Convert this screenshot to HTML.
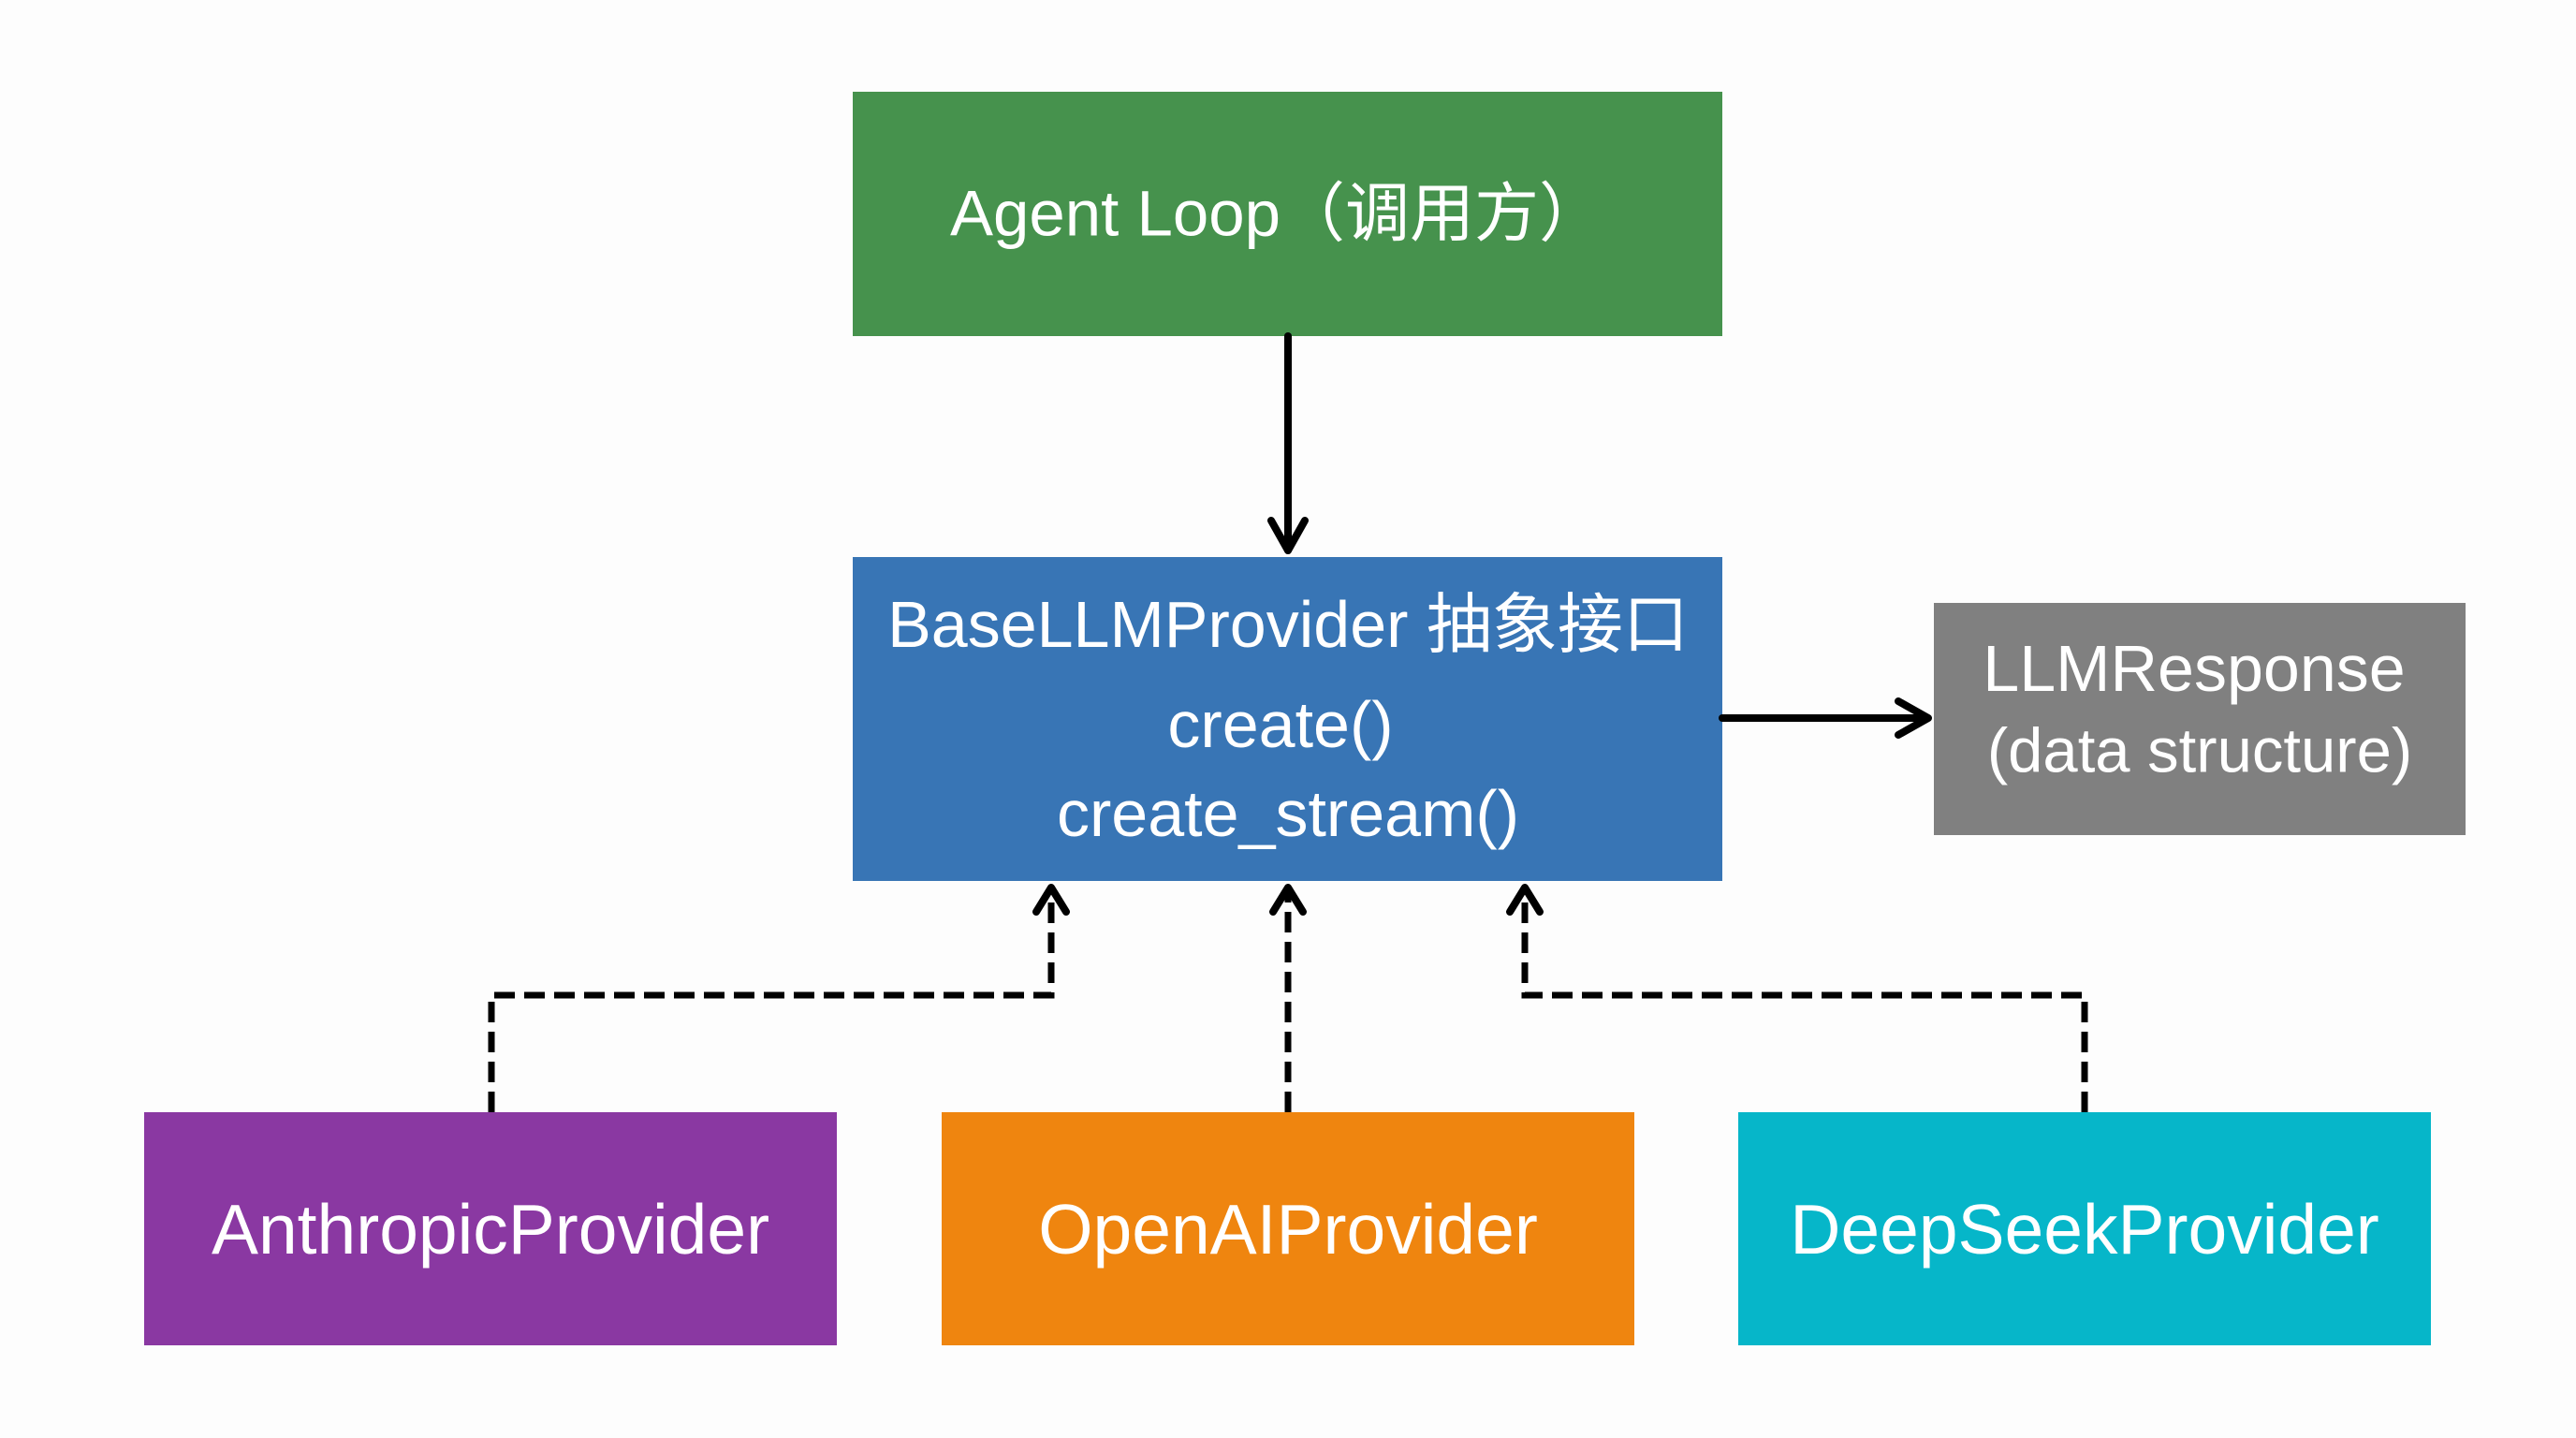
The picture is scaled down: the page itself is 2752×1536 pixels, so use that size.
<!DOCTYPE html>
<html><head><meta charset="utf-8"><style>
html,body{margin:0;padding:0;background:#fdfdfd;}
svg{display:block}
text{font-family:"Liberation Sans","Noto Sans CJK SC",sans-serif;fill:#fff;text-anchor:middle;dominant-baseline:central}
</style></head><body>
<svg width="2752" height="1536" viewBox="0 0 2752 1536" xmlns="http://www.w3.org/2000/svg">
<rect width="2752" height="1536" fill="#fdfdfd"/>
<rect x="911" y="98" width="929" height="261" fill="#46924d"/>
<text x="1364" y="228" font-size="69">Agent Loop（调用方）</text>
<rect x="911" y="595" width="929" height="346" fill="#3875b5"/>
<text x="1376" y="667" font-size="70">BaseLLMProvider 抽象接口</text>
<text x="1368" y="774" font-size="70">create()</text>
<text x="1376" y="869" font-size="70">create_stream()</text>
<rect x="2066" y="644" width="568" height="248" fill="#808080"/>
<text x="2344" y="714" font-size="70">LLMResponse</text>
<text x="2350" y="802" font-size="67">(data structure)</text>
<rect x="154" y="1188" width="740" height="249" fill="#8a38a2"/>
<text x="524" y="1313" font-size="75">AnthropicProvider</text>
<rect x="1006" y="1188" width="740" height="249" fill="#ef850f"/>
<text x="1376" y="1313" font-size="75">OpenAIProvider</text>
<rect x="1857" y="1188" width="740" height="249" fill="#06b6c9"/>
<text x="2227" y="1313" font-size="75">DeepSeekProvider</text>
<g stroke="#000" fill="none" stroke-width="8" stroke-linecap="round" stroke-linejoin="round">
<line x1="1376" y1="359" x2="1376" y2="588"/>
<polyline points="1358,556 1376,588 1394,556"/>
<line x1="1840" y1="767" x2="2058" y2="767"/>
<polyline points="2028,749 2060,767 2028,785"/>
<polyline points="1107,974 1123,948 1139,974"/>
<polyline points="1360,974 1376,948 1392,974"/>
<polyline points="1613,974 1629,948 1645,974"/>
</g>
<g stroke="#000" fill="none" stroke-width="7" stroke-dasharray="22,10">
<polyline points="525,1188 525,1063 1123,1063 1123,952"/>
<line x1="1376" y1="1188" x2="1376" y2="952"/>
<polyline points="2227,1188 2227,1063 1629,1063 1629,952"/>
</g>
</svg>
</body></html>
